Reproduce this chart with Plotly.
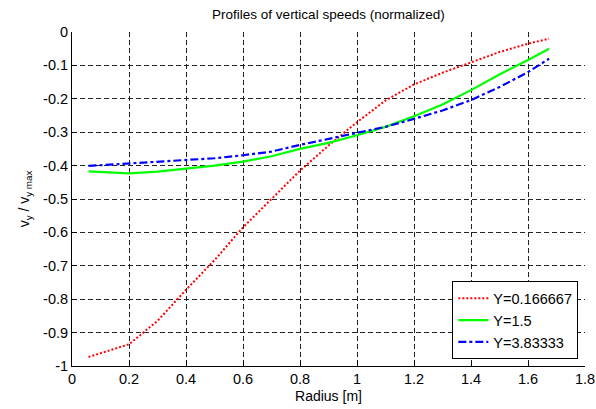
import plotly.graph_objects as go

radius = [0.058, 0.2, 0.3, 0.4, 0.5, 0.6, 0.7, 0.8, 0.9, 1.0, 1.1, 1.2, 1.3, 1.4, 1.5, 1.6, 1.674]
v_y0167 = [-0.973, -0.935, -0.865, -0.772, -0.683, -0.585, -0.5, -0.415, -0.34, -0.27, -0.205, -0.157, -0.122, -0.09, -0.06, -0.035, -0.02]
v_y15 = [-0.417, -0.423, -0.418, -0.409, -0.4, -0.388, -0.372, -0.35, -0.332, -0.309, -0.284, -0.252, -0.217, -0.174, -0.127, -0.084, -0.05]
v_y383 = [-0.401, -0.394, -0.39, -0.385, -0.378, -0.369, -0.358, -0.338, -0.32, -0.303, -0.284, -0.26, -0.235, -0.204, -0.165, -0.12, -0.08]
names = ["Y=0.166667", "Y=1.5", "Y=3.83333"]
x_ticks = [0, 0.2, 0.4, 0.6, 0.8, 1, 1.2, 1.4, 1.6, 1.8]
y_ticks = [0, -0.1, -0.2, -0.3, -0.4, -0.5, -0.6, -0.7, -0.8, -0.9, -1]

FONT = "Liberation Sans, Arial, sans-serif"

fig = go.Figure()
fig.add_trace(go.Scatter(x=radius, y=v_y0167, mode="lines", name=names[0],
                         line=dict(color="#ff0000", width=2, dash="2px,2px")))
fig.add_trace(go.Scatter(x=radius, y=v_y15, mode="lines", name=names[1],
                         line=dict(color="#00ff00", width=2.2, dash="solid")))
fig.add_trace(go.Scatter(x=radius, y=v_y383, mode="lines", name=names[2],
                         line=dict(color="#0000ff", width=2.2, dash="8px,3px,3px,3px")))

fig.update_layout(
    width=596, height=409,
    margin=dict(l=72, r=11, t=32, b=43),
    paper_bgcolor="white", plot_bgcolor="white",
    font=dict(family=FONT, size=14, color="black"),
    title=dict(text="Profiles of vertical speeds (normalized)", x=0.551, xanchor="center",
               y=0.965, yanchor="middle", font=dict(size=13.5, family=FONT, color="black")),
    showlegend=True,
    legend=dict(x=0.987, y=0.02, xanchor="right", yanchor="bottom",
                bgcolor="white", bordercolor="black", borderwidth=1,
                font=dict(size=14.5, family=FONT), tracegroupgap=0,
                itemwidth=30),
)
fig.update_xaxes(
    range=[0, 1.8], tickvals=x_ticks, ticktext=[f"{v:g}" for v in x_ticks],
    showline=True, linecolor="black", linewidth=1, mirror=False,
    ticks="inside", ticklen=5, tickcolor="black", automargin=False,
    showgrid=True, gridcolor="#222222", griddash="5px,3px", gridwidth=1,
    zeroline=False, title=dict(text="Radius [m]", standoff=4, font=dict(size=14)),
    tickfont=dict(size=14.5),
)
fig.update_yaxes(
    range=[-1, 0], tickvals=y_ticks, ticktext=[f"{v:g}" for v in y_ticks],
    showline=True, linecolor="black", linewidth=1, mirror=False,
    ticks="inside", ticklen=5, tickcolor="black", automargin=False,
    showgrid=True, gridcolor="#222222", griddash="5px,3px", gridwidth=1,
    zeroline=False, title=dict(text="v<sub>y</sub> / v<sub>y max</sub>", standoff=10, font=dict(size=14)),
    tickfont=dict(size=14.5),
)

fig.write_html("out.html")
